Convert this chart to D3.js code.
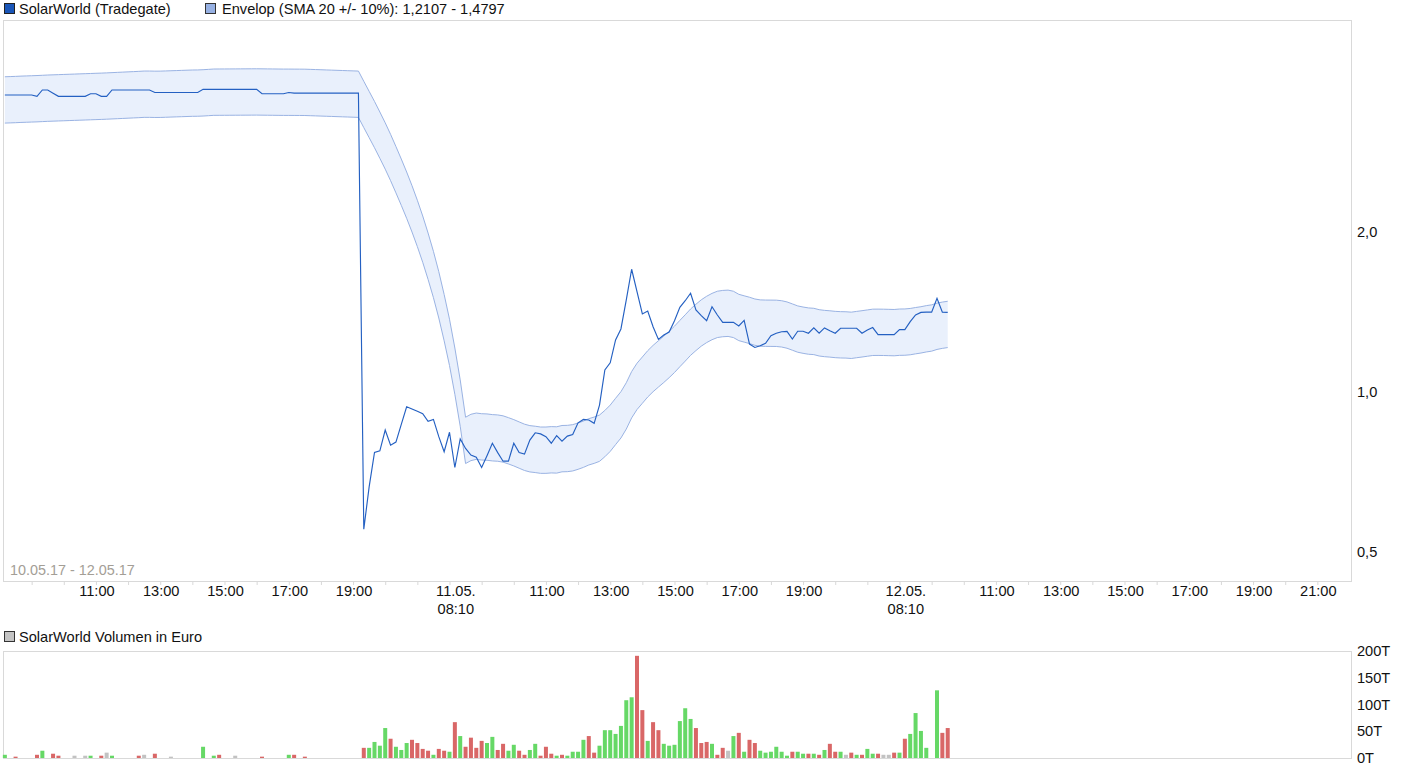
<!DOCTYPE html>
<html><head><meta charset="utf-8">
<script src="https://cdn.jsdelivr.net/npm/d3@7"></script>
<style>
body{margin:0;background:#fff;}
svg text{font-family:"Liberation Sans",Arial,sans-serif;}
</style>
</head><body>
<svg id="chart" width="1410" height="772"></svg>
<script>
// ---- data: 10-minute slots from 10.05.17 08:10 (84 slots per trading day 08:10-22:00)
const prices = [
 3.62,3.62,3.62,3.62,3.62,3.62,3.60,3.70,3.70,3.65,
 3.60,3.60,3.60,3.60,3.60,3.60,3.64,3.64,3.60,3.60,
 3.70,3.70,3.70,3.70,3.70,3.70,3.70,3.70,3.66,3.66,
 3.66,3.66,3.66,3.66,3.66,3.66,3.66,3.71,3.71,3.71,
 3.71,3.71,3.71,3.71,3.71,3.71,3.71,3.71,3.64,3.64,
 3.64,3.64,3.64,3.66,3.65,3.65,3.65,3.65,3.65,3.65,
 3.65,3.65,3.65,3.65,3.65,3.65,3.65,
 0.552,0.663,0.770,0.775,0.848,0.794,0.805,0.869,0.938,0.929,
 0.920,0.910,0.881,0.888,0.824,0.772,0.840,0.721,0.816,0.783,
 0.761,0.754,0.721,0.759,0.801,0.769,0.741,0.741,0.801,0.769,
 0.764,0.812,0.838,0.834,0.824,0.801,0.828,0.808,0.826,0.832,
 0.875,0.888,0.886,0.873,0.945,1.100,1.135,1.253,1.314,1.490,
 1.702,1.544,1.402,1.420,1.327,1.256,1.280,1.297,1.362,1.443,
 1.485,1.534,1.427,1.392,1.362,1.447,1.396,1.352,1.352,1.352,
 1.331,1.364,1.231,1.213,1.222,1.235,1.276,1.290,1.298,1.300,
 1.258,1.301,1.301,1.290,1.320,1.290,1.320,1.304,1.290,1.318,
 1.318,1.318,1.318,1.290,1.308,1.322,1.282,1.282,1.282,1.282,
 1.310,1.310,1.356,1.396,1.412,1.413,1.413,1.501,1.413,1.412
];
const sma20 = [
 3.562,3.565,3.568,3.572,3.575,3.578,3.581,3.585,3.589,3.592,
 3.595,3.598,3.601,3.604,3.607,3.610,3.613,3.616,3.619,3.6225,
 3.6265,3.6305,3.6345,3.6385,3.6425,3.6465,3.6515,3.6515,3.6495,3.650,
 3.653,3.656,3.659,3.662,3.665,3.668,3.669,3.6725,3.678,3.6835,
 3.684,3.6845,3.685,3.6855,3.686,3.6865,3.687,3.6875,3.6865,3.6855,
 3.6845,3.6835,3.6825,3.6825,3.682,3.6815,3.681,3.678,3.675,3.672,
 3.669,3.666,3.663,3.660,3.657,3.654,3.651,
 3.493,3.344,3.201,3.058,2.918,2.776,2.633,2.494,2.358,2.222,
 2.086,1.949,1.810,1.672,1.531,1.387,1.246,1.100,0.958,0.815,
 0.8254,0.8299,0.8275,0.8267,0.8243,0.8231,0.8199,0.8135,0.8066,0.7986,
 0.7908,0.7859,0.7838,0.7811,0.7811,0.7825,0.7819,0.7863,0.7868,0.7892,
 0.7949,0.8016,0.8099,0.8156,0.8228,0.8393,0.8590,0.8846,0.9103,0.9463,
 0.9932,1.0298,1.0580,1.0873,1.1125,1.1352,1.1578,1.1823,1.2091,1.2396,
 1.2701,1.3024,1.3295,1.3554,1.3763,1.3936,1.4067,1.4116,1.4135,1.4066,
 1.3881,1.3791,1.3705,1.3602,1.3549,1.3539,1.3537,1.3533,1.3501,1.3430,
 1.3316,1.3200,1.3137,1.3086,1.3065,1.2986,1.2948,1.2924,1.2893,1.2876,
 1.2870,1.2847,1.2890,1.2929,1.2972,1.3015,1.3018,1.3014,1.3006,1.2997,
 1.3023,1.3028,1.3055,1.3108,1.3154,1.3216,1.3262,1.3361,1.3422,1.3469
];
// volume in thousand euro
const volumes = [
 6,0,2.5,0,0,0,6,13.6,0,8,
 4.3,0,0,4.3,0,4.3,4.3,0,4.3,10,
 4.3,0,0,0,0,4.3,6,0,8,0,
 0,2.5,0,0,0,0,0,21,0,4.3,
 6,0,0,4.3,0,0,0,0,2.5,0,
 0,0,0,6,6,0,2.5,0,0,0,
 0,0,0,0,0,0,0,
 19,19,30,23,56,36,21,15,28,34,
 28,17,13.6,6,17,13.6,11.7,67,41,21,
 38,19,32,28,39.5,15,26.5,13.6,24.7,13.6,
 6,15,26.5,4.3,21,8,4.3,6,4.3,11.7,
 11.7,34,41,10,23,52,52,45,60,108,
 113.5,191,89.5,32,67,52,26.5,23,24.7,69,
 93,73,56,28,30,26.5,6,19,13.6,41,
 47,11.7,34,28,13.6,10,11.7,21,11.7,4.3,
 11.7,11.7,8,8,8,6,15,26.5,11.7,11.7,
 6,10,6,6,17,8,8,6,6,10,
 10,36,45,84,50.6,19,0,126.5,47,56
];
// g = up, r = down, n = unchanged, . = no trade
const volumeTrend = (
 "g.r...rg.r" + "r..n.ng.rn" + "g....rn.r." + ".n.....g.g" + "r..n....r." + "...gr.r..." + "......." +
 "rggggrgggr" + "rrrgrrgrgr" + "rrrggrrggr" + "rggrrrgrgg" + "ggrrgggggg" + "grrgrrgggg" +
 "ggrrrgrrng" + "rgrrgggggg" + "rggrgrgrrg" + "nrgrggrnnr" + "grgggg.grr"
).split("");

const tickDays  = [0,0,0,0,0,1,1,1,1,1,1,2,2,2,2,2,2,2];
const tickClock = ["11:00","13:00","15:00","17:00","19:00","08:10","11:00","13:00","15:00","17:00","19:00","08:10","11:00","13:00","15:00","17:00","19:00","21:00"];
const tickDate  = ["","","","","","11.05.","","","","","","12.05.","","","","","",""];
const priceTicks = [0.5, 1.0, 2.0];
const priceTickLabels = ["0,5","1,0","2,0"];
const volumeTicks = [0,50,100,150,200];

const legendMain = "SolarWorld (Tradegate)";
const legendEnv = "Envelop (SMA 20 +/- 10%): 1,2107 - 1,4797";
const legendVol = "SolarWorld Volumen in Euro";
const dateRange = "10.05.17 - 12.05.17";

// ---- layout
const svg = d3.select("#chart");
const P = {l:3, r:1352, t:20, b:581};
const V = {t:651, b:758};

const x = d3.scaleLinear().domain([0, 42]).range([-0.5, 1349.5]); // hours since 10.05. 08:00, 14h per day
const slotHour = k => Math.floor(k/84)*14 + ((k%84)+1)/6;
const y = d3.scaleLog().base(2).domain([0.5, 2]).range([552, 232]);
const yv = d3.scaleLinear().domain([0, 200]).range([V.b, V.t]);

const fontSize = 14.6;

// legends
function legend(xp, yp, fill, stroke, label, gap){
  svg.append("rect").attr("x", xp+0.5).attr("y", yp+0.5).attr("width", 10).attr("height", 10)
    .attr("fill", fill).attr("stroke", stroke).attr("stroke-width", 1);
  svg.append("text").attr("x", xp+gap).attr("y", yp+10.5).attr("font-size", fontSize).attr("fill", "#111").text(label);
}
legend(4, 3, "#1a56b8", "#222", legendMain, 15);
legend(205, 3, "#97b1e3", "#333", legendEnv, 17);
legend(4, 631, "#c4c4c4", "#333", legendVol, 15);

// frames
svg.append("rect").attr("x", P.l+0.5).attr("y", P.t+0.5).attr("width", P.r-P.l-1).attr("height", P.b-P.t)
  .attr("fill", "none").attr("stroke", "#d9d9d9");
svg.append("rect").attr("x", P.l+0.5).attr("y", V.t+0.5).attr("width", P.r-P.l-1).attr("height", V.b-V.t)
  .attr("fill", "none").attr("stroke", "#d9d9d9");

// envelope
const gEnv = svg.append("g");
gEnv.append("path").datum(sma20)
  .attr("d", d3.area().x((d,i)=>x(slotHour(i))).y0(d=>y(d*0.9)).y1(d=>y(d*1.1)))
  .attr("fill", "#e9f0fc");
gEnv.append("path").datum(sma20)
  .attr("d", d3.line().x((d,i)=>x(slotHour(i))).y(d=>y(d*1.1)))
  .attr("fill", "none").attr("stroke", "#9ab3e3").attr("stroke-width", 1);
gEnv.append("path").datum(sma20)
  .attr("d", d3.line().x((d,i)=>x(slotHour(i))).y(d=>y(d*0.9)))
  .attr("fill", "none").attr("stroke", "#9ab3e3").attr("stroke-width", 1);

// price line
svg.append("path").datum(prices)
  .attr("d", d3.line().x((d,i)=>x(slotHour(i))).y(d=>y(d)))
  .attr("fill", "none").attr("stroke", "#2460c2").attr("stroke-width", 1.15);

// price axis (right)
const ga = svg.append("g").attr("transform", `translate(${P.r+1},0)`)
  .call(d3.axisRight(y).tickValues(priceTicks).tickSize(0).tickPadding(4)
        .tickFormat((d,i)=>priceTickLabels[i]));
ga.select(".domain").remove();
ga.selectAll("text").attr("font-size", fontSize).attr("fill", "#111").attr("font-family", null);

// volume axis (right)
const gv = svg.append("g").attr("transform", `translate(${P.r+1},0)`)
  .call(d3.axisRight(yv).tickValues(volumeTicks).tickSize(0).tickPadding(4).tickFormat(d=>d+"T"));
gv.select(".domain").remove();
gv.selectAll("text").attr("font-size", fontSize).attr("fill", "#111").attr("font-family", null);

// x axis: hourly minor ticks
svg.append("g").selectAll("line").data(d3.range(1, 42))
  .join("line").attr("x1", d=>x(d)+0.5).attr("x2", d=>x(d)+0.5).attr("y1", P.b+1).attr("y2", P.b+4)
  .attr("stroke", "#d9d9d9");

// x axis labels
const tickX = i => {
  const [hh, mm] = tickClock[i].split(":").map(Number);
  return x(tickDays[i]*14 + (hh-8) + mm/60) + 1;
};
const gx = svg.append("g");
tickClock.forEach((t, i) => {
  const txt = gx.append("text").attr("x", tickX(i)).attr("y", 596).attr("text-anchor", "middle")
    .attr("font-size", fontSize).attr("fill", "#111");
  if (tickDate[i]) {
    txt.append("tspan").attr("x", tickX(i)).attr("y", 596).text(tickDate[i]);
    txt.append("tspan").attr("x", tickX(i)).attr("y", 614).text(t);
  } else {
    txt.text(t);
  }
});

// date range
svg.append("text").attr("x", 10).attr("y", 575).attr("font-size", 14.4).attr("fill", "#a39e96").text(dateRange);

// volume bars
const volColor = {g:"#66d866", r:"#d96767", n:"#c2c2c2"};
svg.append("g").selectAll("rect")
  .data(volumes.map((v,i)=>({v, i, t: volumeTrend[i]})).filter(d=>d.v>0 && d.t!=="."))
  .join("rect")
  .attr("x", d=>x(slotHour(d.i))-2)
  .attr("width", 4)
  .attr("y", d=>yv(d.v))
  .attr("height", d=>yv(0)-yv(d.v))
  .attr("fill", d=>volColor[d.t]);
</script>
</body></html>
